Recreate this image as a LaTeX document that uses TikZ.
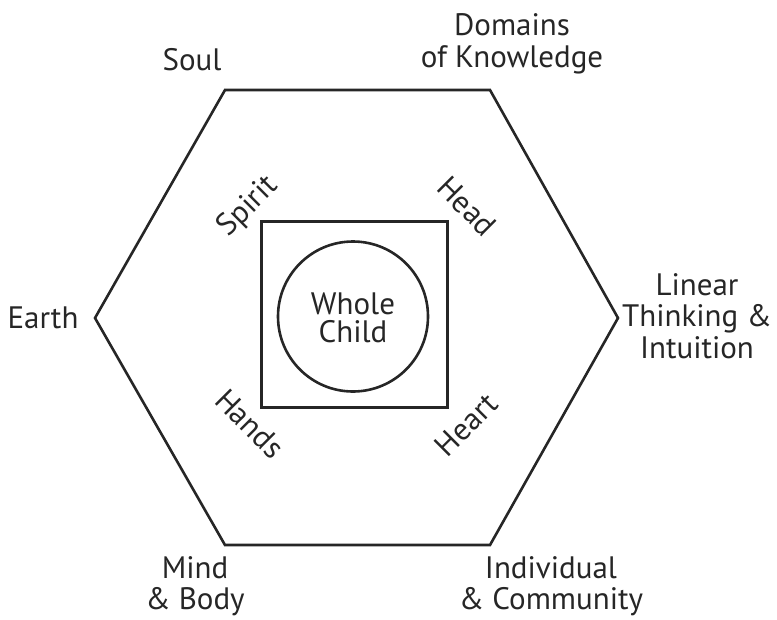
\documentclass[tikz,border=0pt]{standalone}
\usepackage{fontspec}
\setmainfont{PT Sans}
\begin{document}
\begin{tikzpicture}[x=1pt,y=-1pt,
  shape line/.style={draw=black!85, line width=2.6pt, line join=miter},
  lbl/.style={font=\fontsize{31}{31.5}\selectfont, align=center, inner sep=0pt, text=black!85}]
\useasboundingbox (0,0) rectangle (777,619);
\draw[shape line] (225,90) -- (490,90) -- (618,318) -- (490,545) -- (225,545) -- (95,318) -- cycle;
\node[shape line, rectangle, minimum width=186pt, minimum height=186pt, inner sep=0pt] (sq) at (354.5,314.5) {};
\node[shape line, circle, minimum size=150pt, inner sep=0pt] (c) at (353,316.5) {};
\node[lbl, font=\fontsize{31}{28}\selectfont] (wc) at (353,318) {Whole\\Child};
\node[lbl] (soul) at (192,60) {Soul};
\node[lbl] (dom) at (512,44) {Domains\\of Knowledge};
\node[lbl] (earth) at (43,318) {Earth};
\node[lbl] (lin) at (697,316) {Linear\\Thinking \&\\Intuition};
\node[lbl] (mb) at (195,586) {Mind\\\& Body};
\node[lbl] (ic) at (551,586) {Individual\\\& Community};
\node[lbl, rotate=45] (spirit) at (248,207) {Spirit};
\node[lbl, rotate=-45] (head) at (467,206) {Head};
\node[lbl, rotate=-45] (hands) at (250,424) {Hands};
\node[lbl, rotate=45] (heart) at (466,425) {Heart};
\end{tikzpicture}
\end{document}
